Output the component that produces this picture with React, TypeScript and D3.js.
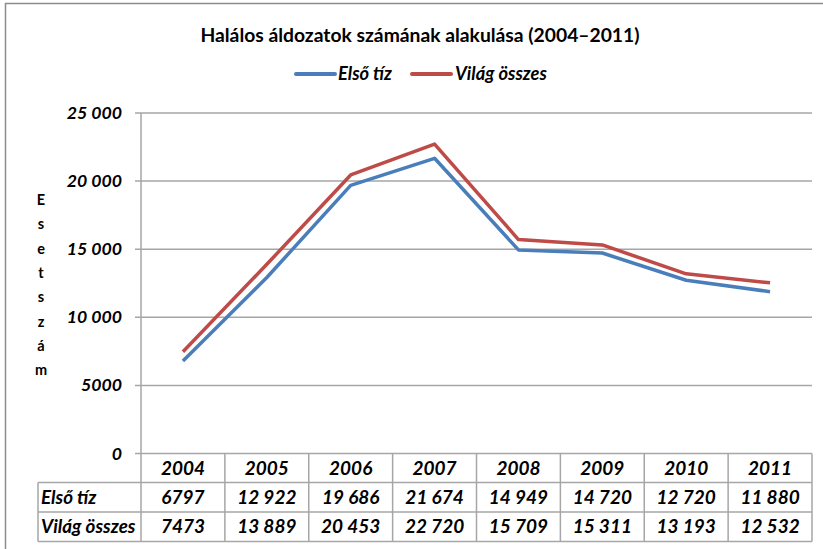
import React from "react";
import * as d3 from "d3";

const years = ["2004", "2005", "2006", "2007", "2008", "2009", "2010", "2011"];
const elsoTiz = [6797, 12922, 19686, 21674, 14949, 14720, 12720, 11880];
const vilagOsszes = [7473, 13889, 20453, 22720, 15709, 15311, 13193, 12532];
const yTicks = [0, 5000, 10000, 15000, 20000, 25000];
const seriesNames = ["Első tíz", "Világ összes"];
const title = "Halálos áldozatok számának alakulása (2004–2011)";
const yLabel = "Esetszám";

const W = 823;
const H = 549;
const FONT = "Lato, 'Open Sans', sans-serif";
const GRID = "#a6a6a6";
const COLORS = ["#4a7ebb", "#be4b48"];

function fmt(v: number): string {
  if (v < 10000) return String(v);
  const s = String(v);
  return s.slice(0, s.length - 3) + " " + s.slice(s.length - 3);
}

export default function App() {
  const left = 141;
  const right = 812;
  const top = 113;
  const bottom = 453.5;
  const x = d3.scaleBand<string>().domain(years).range([left, right]);
  const y = d3.scaleLinear().domain([0, 25000]).range([bottom, top]);
  const cx = (yr: string) => (x(yr) as number) + x.bandwidth() / 2;
  const line = d3
    .line<number>()
    .x((_, i) => cx(years[i]))
    .y((d) => y(d));
  const series = [elsoTiz, vilagOsszes];
  const rowY = [453.5, 482.5, 512, 541.5];
  const labelLeft = 38;

  return (
    <div style={{ position: "absolute", left: 0, top: 0 }}>
      <svg width={W} height={H} style={{ display: "block", fontFamily: FONT }}>
        <rect x={0} y={0} width={W} height={H} fill="#fff" />
        <rect x={5.5} y={3.5} width={W + 20} height={H + 20} fill="none" stroke="#8c8c8c" strokeWidth={1.5} />
        <text x={420} y={42} textAnchor="middle" fontWeight="bold" fontSize={19.3} fill="#000">
          {title}
        </text>
        {/* legend */}
        <g>
          <line x1={296} x2={335} y1={74} y2={74} stroke={COLORS[0]} strokeWidth={4} strokeLinecap="round" />
          <text x={338} y={80} fontWeight="bold" fontStyle="italic" fontSize={18.3}>
            {seriesNames[0]}
          </text>
          <line x1={412} x2={451} y1={74} y2={74} stroke={COLORS[1]} strokeWidth={4} strokeLinecap="round" />
          <text x={455} y={80} fontWeight="bold" fontStyle="italic" fontSize={18.3}>
            {seriesNames[1]}
          </text>
        </g>
        {/* gridlines + ticks */}
        {yTicks.map((t) => (
          <g key={t}>
            <line x1={135} x2={right} y1={y(t)} y2={y(t)} stroke={GRID} strokeWidth={1.5} />
            <text x={122} y={y(t) + 6} textAnchor="end" fontWeight="bold" fontStyle="italic" fontSize={17.7}>
              {fmt(t)}
            </text>
          </g>
        ))}
        <line x1={left} x2={left} y1={top} y2={rowY[3]} stroke={GRID} strokeWidth={1.5} />
        {/* y label */}
        {yLabel.split("").map((c, i) => (
          <text key={i} x={41} y={205 + i * 24.3} textAnchor="middle" fontWeight="bold" fontSize={14.5}>
            {c}
          </text>
        ))}
        {/* series lines */}
        {series.map((s, i) => (
          <path key={i} d={line(s) as string} fill="none" stroke={COLORS[i]} strokeWidth={3.5} strokeLinejoin="round" />
        ))}
        {/* data table */}
        <g>
          {rowY.slice(1).map((ry, i) => (
            <line key={i} x1={labelLeft} x2={right} y1={ry} y2={ry} stroke={GRID} strokeWidth={1.5} />
          ))}
          <line x1={labelLeft} x2={labelLeft} y1={rowY[1]} y2={rowY[3]} stroke={GRID} strokeWidth={1.5} />
          {years.map((yr) => (
            <line
              key={yr}
              x1={(x(yr) as number) + x.bandwidth()}
              x2={(x(yr) as number) + x.bandwidth()}
              y1={rowY[0]}
              y2={rowY[3]}
              stroke={GRID}
              strokeWidth={1.5}
            />
          ))}
          {years.map((yr) => (
            <text key={yr} x={cx(yr)} y={(rowY[0] + rowY[1]) / 2 + 6.5} textAnchor="middle" fontWeight="bold" fontStyle="italic" fontSize={19}>
              {yr}
            </text>
          ))}
          {series.map((s, si) => (
            <g key={si}>
              <text x={41} y={(rowY[si + 1] + rowY[si + 2]) / 2 + 6.5} fontWeight="bold" fontStyle="italic" fontSize={18.8}>
                {seriesNames[si]}
              </text>
              {s.map((v, i) => (
                <text key={i} x={cx(years[i])} y={(rowY[si + 1] + rowY[si + 2]) / 2 + 6.5} textAnchor="middle" fontWeight="bold" fontStyle="italic" fontSize={19}>
                  {fmt(v)}
                </text>
              ))}
            </g>
          ))}
        </g>
      </svg>
    </div>
  );
}
